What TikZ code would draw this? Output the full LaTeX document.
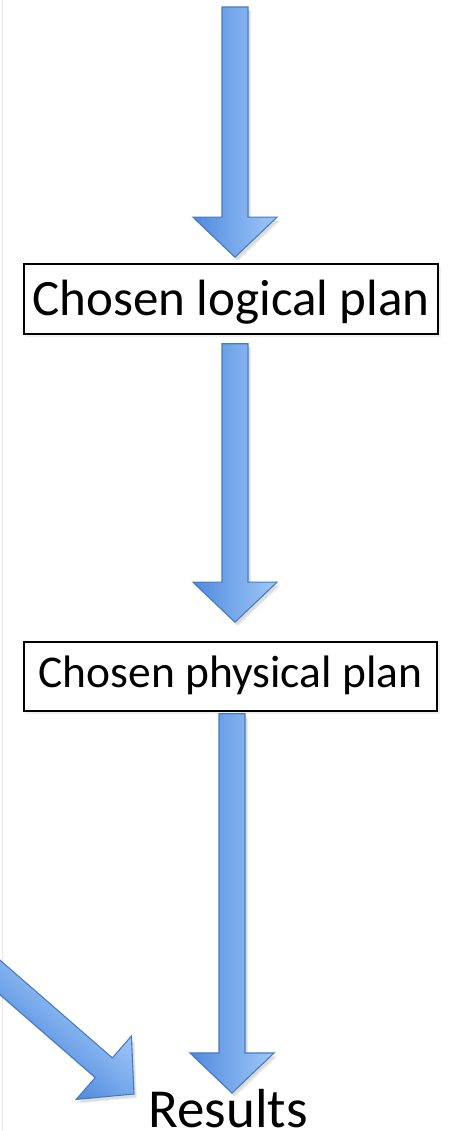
\documentclass[tikz,border=0pt]{standalone}
\usepackage{fontspec}
\setmainfont{Carlito}
\usetikzlibrary{calc}

\definecolor{arrowdark}{RGB}{80,138,220}
\definecolor{arrowlight}{RGB}{160,200,250}
\definecolor{arrowedge}{RGB}{72,124,194}

\tikzset{
  planbox/.style={draw=black, line width=1.6pt, fill=white, inner xsep=0pt, inner ysep=0pt},
  arrowbody/.style={top color=arrowlight, bottom color=arrowdark, draw=arrowedge, line width=1.1pt, line join=miter},
  arrowshadow/.style={fill=black, opacity=0.07},
}

% block arrow from #1 to #2: shaft half-width 13, head half-width 42, head length 40
\newcommand\blockarrow[2]{%
  \path let \p1=($(#2)-(#1)$) in \pgfextra{%
    \pgfmathsetmacro\baang{atan2(\y1,\x1)}%
    \pgfmathsetmacro\balen{veclen(\x1,\y1)}%
    \global\let\baang\baang\global\let\balen\balen};
  \foreach \dx/\dy in {2/-3,3/-4} {
    \begin{scope}[transform canvas={shift={($(#1)+(\dx,\dy)$)}, rotate=\baang}]
      \fill[arrowshadow] (0,-13) -- ({\balen-40},-13) -- ({\balen-40},-42) -- (\balen,0)
        -- ({\balen-40},42) -- ({\balen-40},13) -- (0,13) -- cycle;
    \end{scope}
  }
  \begin{scope}[transform canvas={shift={(#1)}, rotate=\baang}]
    \shadedraw[arrowbody] (0,-13) -- ({\balen-40},-13) -- ({\balen-40},-42) -- (\balen,0)
      -- ({\balen-40},42) -- ({\balen-40},13) -- (0,13) -- cycle;
  \end{scope}
}

\begin{document}
\begin{tikzpicture}[x=1pt, y=1pt]
  \useasboundingbox (0,0) rectangle (448,1131);
  \fill[white] (0,0) rectangle (448,1131);
  \draw[black!9, line width=1pt] (2.5,0) -- (2.5,1131);

  % box shadows
  \fill[black, opacity=0.06] (26,794) rectangle (441,864);
  \fill[black, opacity=0.06] (26,417) rectangle (440,486);

  % plan boxes
  \node[planbox, minimum width=414pt, text height=52pt, text depth=18pt,
        font=\fontsize{51}{60}\selectfont] (logical) at (231,832) {Chosen logical plan};
  \node[planbox, minimum width=413pt, text height=46pt, text depth=23pt,
        font=\fontsize{45.5}{54}\selectfont] (physical) at (230.5,454.5) {Chosen physical plan};
  \node[inner sep=0pt, anchor=base, font=\fontsize{55}{64}\selectfont] (results) at (228,3) {Results};

  % arrow end points
  \coordinate (in1) at (235,1124);
  \coordinate (t1) at ($(logical.north)+(4,6)$);
  \coordinate (s2) at ($(logical.south)+(4,-9)$);
  \coordinate (t2) at ($(physical.north)+(4.5,19)$);
  \coordinate (s3) at ($(physical.south)+(1.5,-2)$);
  \coordinate (t3) at (232,38);
  \coordinate (in4) at (-20,171);
  \coordinate (t4) at (134,37);

  \blockarrow{in1}{t1}
  \blockarrow{s2}{t2}
  \blockarrow{s3}{t3}
  \blockarrow{in4}{t4}
\end{tikzpicture}
\end{document}
